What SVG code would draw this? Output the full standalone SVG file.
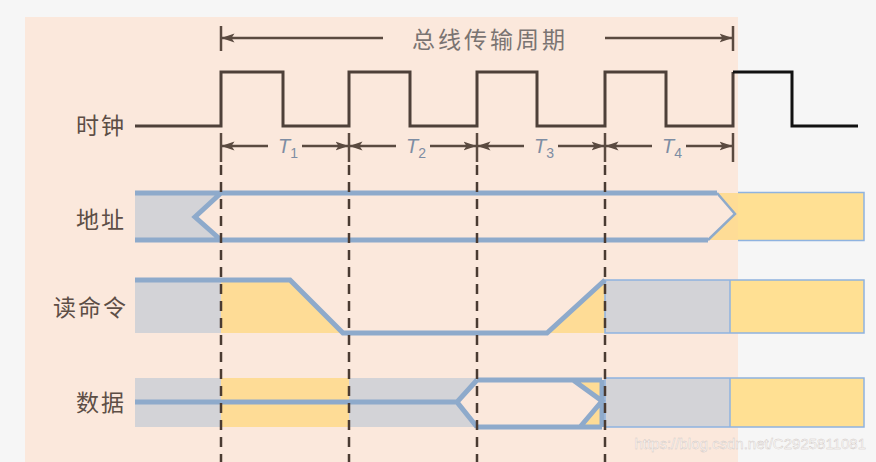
<svg xmlns="http://www.w3.org/2000/svg" width="876" height="462" viewBox="0 0 876 462">
<style>
.lbl{font-family:"Noto Sans CJK SC","Noto Sans",sans-serif;font-size:23px;fill:#5d4e46;letter-spacing:2px}
.tt{font-family:"Liberation Sans",sans-serif;font-style:italic;font-size:20px;fill:#7e8da3}
.ts{font-size:14px;font-style:normal}
.sig{fill:none;stroke:#8eaacb;stroke-width:5;stroke-linejoin:miter}
.grey{fill:#d3d3d7}
.yel{fill:#fedc96}
.box{stroke:#8fb3e0;stroke-width:1.5}
.arr{stroke:#5a4a40;stroke-width:2.5;fill:none}
.tick{stroke:#5a4a40;stroke-width:2.5}
.dash{stroke:#4a3b32;stroke-width:2.5;stroke-dasharray:10 7}
</style>
<defs>
<marker id="ah" viewBox="0 0 13 10" refX="12.5" refY="5" markerWidth="13" markerHeight="10" markerUnits="userSpaceOnUse" orient="auto-start-reverse">
<path d="M0,0.5 L13,5 L0,9.5 L3,5 Z" fill="#5a4a40"/>
</marker>
</defs>
<rect width="876" height="462" fill="#f6f6f6"/>
<rect x="25" y="17" width="713" height="445" fill="#fbe8dc"/>

<g id="title">
<text x="490" y="48" text-anchor="middle" font-family="'Noto Sans CJK SC',sans-serif" font-size="23" letter-spacing="3" fill="#7a7472">总线传输周期</text>
</g>

<g id="labels">
<text class="lbl" x="126" y="134" text-anchor="end">时钟</text>
<text class="lbl" x="126" y="228" text-anchor="end">地址</text>
<text class="lbl" x="128" y="316" text-anchor="end">读命令</text>
<text class="lbl" x="126" y="411" text-anchor="end">数据</text>
</g>

<g id="clock">
<path d="M135,126 H221 V72 H283 V126 H349 V72 H410 V126 H477 V72 H537 V126 H605 V72 H666 V126 H733 V72" fill="none" stroke="#4e4039" stroke-width="3"/>
<path d="M733,72 H792 V126 H858" fill="none" stroke="#111" stroke-width="3"/>
</g>

<g id="connectors">
<line class="tick" x1="221" y1="26" x2="221" y2="51"/>
<line class="tick" x1="733" y1="26" x2="733" y2="51"/>
<line class="arr" x1="383" y1="38" x2="222" y2="38" marker-end="url(#ah)"/>
<line class="arr" x1="605" y1="38" x2="732" y2="38" marker-end="url(#ah)"/>

<line class="tick" x1="221" y1="133" x2="221" y2="162"/>
<line class="tick" x1="349" y1="133" x2="349" y2="162"/>
<line class="tick" x1="477" y1="133" x2="477" y2="162"/>
<line class="tick" x1="605" y1="133" x2="605" y2="162"/>
<line class="tick" x1="733" y1="133" x2="733" y2="162"/>

<line class="arr" x1="268" y1="146" x2="222" y2="146" marker-end="url(#ah)"/>
<line class="arr" x1="302" y1="146" x2="348" y2="146" marker-end="url(#ah)"/>
<line class="arr" x1="396" y1="146" x2="350" y2="146" marker-end="url(#ah)"/>
<line class="arr" x1="430" y1="146" x2="476" y2="146" marker-end="url(#ah)"/>
<line class="arr" x1="524" y1="146" x2="478" y2="146" marker-end="url(#ah)"/>
<line class="arr" x1="558" y1="146" x2="604" y2="146" marker-end="url(#ah)"/>
<line class="arr" x1="652" y1="146" x2="606" y2="146" marker-end="url(#ah)"/>
<line class="arr" x1="686" y1="146" x2="732" y2="146" marker-end="url(#ah)"/>
</g>

<g id="tlabels">
<text class="tt" x="278" y="153">T<tspan class="ts" dy="5">1</tspan></text>
<text class="tt" x="406" y="153">T<tspan class="ts" dy="5">2</tspan></text>
<text class="tt" x="534" y="153">T<tspan class="ts" dy="5">3</tspan></text>
<text class="tt" x="662" y="153">T<tspan class="ts" dy="5">4</tspan></text>
</g>

<g id="address">
<polygon class="grey" points="135,193 221,193 195,217 221,240 135,240"/>
<polygon class="yel" points="717,193 864,193 864,240 708,240 735,214"/>
<rect x="738" y="193" width="126" height="47" fill="#ffe093"/>
<path d="M738,192.5 H864 V240.5 H738" fill="none" class="box"/>
<path class="sig" d="M135,193 H717 M135,240 H708 M221,193 L195,217 L221,240"/>
<path d="M717,193 L735,214 L708,240" fill="none" stroke="#8eaacb" stroke-width="2.5"/>
</g>

<g id="readcmd">
<rect class="grey" x="135" y="280" width="86" height="53"/>
<polygon class="yel" points="221,280 290,280 343,333 221,333"/>
<polygon class="yel" points="547,333 605,280 605,333"/>
<rect class="grey" x="605" y="280" width="125" height="53"/>
<rect x="730" y="280" width="134" height="53" fill="#ffe093"/>
<rect x="605" y="280" width="259" height="53" fill="none" class="box"/>
<line x1="730" y1="280" x2="730" y2="333" class="box"/>
<path class="sig" d="M135,280 H290 L343,333 H547 L605,280"/>
</g>

<g id="data">
<rect class="grey" x="135" y="378" width="86" height="49"/>
<rect class="yel" x="221" y="378" width="128" height="49"/>
<rect class="grey" x="349" y="378" width="128" height="49"/>
<polygon points="477,380 457,402 477,427" fill="#fbe8dc"/>
<polygon class="yel" points="573,380 602,380 602,400"/>
<polygon class="yel" points="580,427 602,427 602,404"/>
<rect class="grey" x="605" y="378" width="125" height="49"/>
<rect x="730" y="378" width="134" height="49" fill="#ffe093"/>
<rect x="605" y="378" width="259" height="49" fill="none" class="box"/>
<line x1="730" y1="378" x2="730" y2="427" class="box"/>
<path class="sig" d="M135,402 H457 M477,380 L457,402 L477,427 M477,380 H602 M477,427 H602 M573,380 L602,401 L580,427 M602,380 V427"/>
</g>

<g id="gridlines">
<line class="dash" x1="221" y1="165" x2="221" y2="462"/>
<line class="dash" x1="349" y1="165" x2="349" y2="462"/>
<line class="dash" x1="477" y1="165" x2="477" y2="462"/>
<line class="dash" x1="605" y1="165" x2="605" y2="462"/>
</g>

<text x="866" y="449" text-anchor="end" font-family="'Liberation Sans',sans-serif" font-size="15" fill="#ffffff" fill-opacity="0.8" stroke="#cfc6c2" stroke-width="0.4">https://blog.csdn.net/C2925811081</text>
</svg>
